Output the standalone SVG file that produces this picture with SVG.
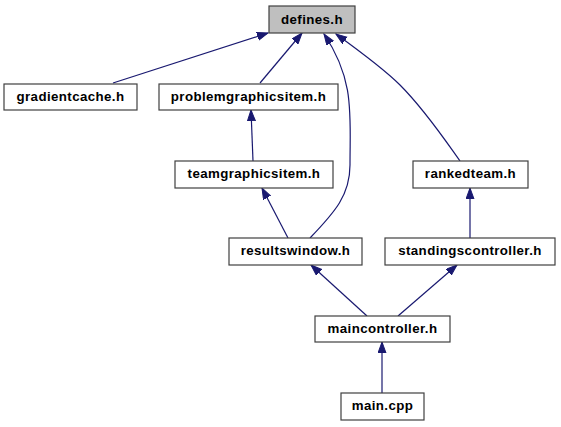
<svg xmlns="http://www.w3.org/2000/svg" width="561" height="427" viewBox="0 0 561 427">
<defs>
<marker id="arr" markerUnits="userSpaceOnUse" markerWidth="12" markerHeight="10" refX="11" refY="4" orient="auto">
<path d="M0,0 L11,4 L0,8 z" fill="#191970" stroke="#191970" stroke-width="1"/>
</marker>
</defs>
<style>
.box{fill:#ffffff;stroke:#404040;stroke-width:1.2}
.root{fill:#bfbfbf}
.lbl{font-family:"Liberation Sans",Arial,sans-serif;font-weight:bold;font-size:13.3px;letter-spacing:0.4px;text-anchor:middle;fill:#000}
.e{fill:none;stroke:#191970;stroke-width:1.2;marker-end:url(#arr)}
</style>
<rect width="561" height="427" fill="#ffffff"/>
<g id="edges">
<path class="e" d="M113,83 L268,33"/>
<path class="e" d="M260,83 L302,33"/>
<path class="e" d="M310,238 C335,212 350,195 350,165 C350,115 355,80 324,34"/>
<path class="e" d="M460,161 C445,140 425,110 400,85 C385,70 365,55 336,34"/>
<path class="e" d="M253,161 L251,110"/>
<path class="e" d="M288,238 L262,188"/>
<path class="e" d="M470,238 L470,188"/>
<path class="e" d="M367,316 L311,265"/>
<path class="e" d="M398,316 L457,265"/>
<path class="e" d="M382,393 L382,342"/>
</g>
<g id="defines"><rect class="box root" x="269" y="6" width="86" height="27"/><text class="lbl" x="312" y="24">defines.h</text></g>
<g id="gradientcache"><rect class="box" x="4" y="84" width="133" height="26"/><text class="lbl" x="70.5" y="101">gradientcache.h</text></g>
<g id="problemgraphicsitem"><rect class="box" x="159" y="84" width="179" height="26"/><text class="lbl" x="248.5" y="101">problemgraphicsitem.h</text></g>
<g id="teamgraphicsitem"><rect class="box" x="175" y="161" width="158" height="27"/><text class="lbl" x="254" y="178">teamgraphicsitem.h</text></g>
<g id="rankedteam"><rect class="box" x="413" y="161" width="115" height="27"/><text class="lbl" x="470.5" y="178">rankedteam.h</text></g>
<g id="resultswindow"><rect class="box" x="229" y="238" width="133" height="27"/><text class="lbl" x="295.5" y="255">resultswindow.h</text></g>
<g id="standingscontroller"><rect class="box" x="385" y="238" width="170" height="27"/><text class="lbl" x="470" y="255">standingscontroller.h</text></g>
<g id="maincontroller"><rect class="box" x="315" y="316" width="135" height="26"/><text class="lbl" x="382.5" y="333">maincontroller.h</text></g>
<g id="main"><rect class="box" x="341" y="393" width="83" height="27"/><text class="lbl" x="382.5" y="410">main.cpp</text></g>
</svg>
